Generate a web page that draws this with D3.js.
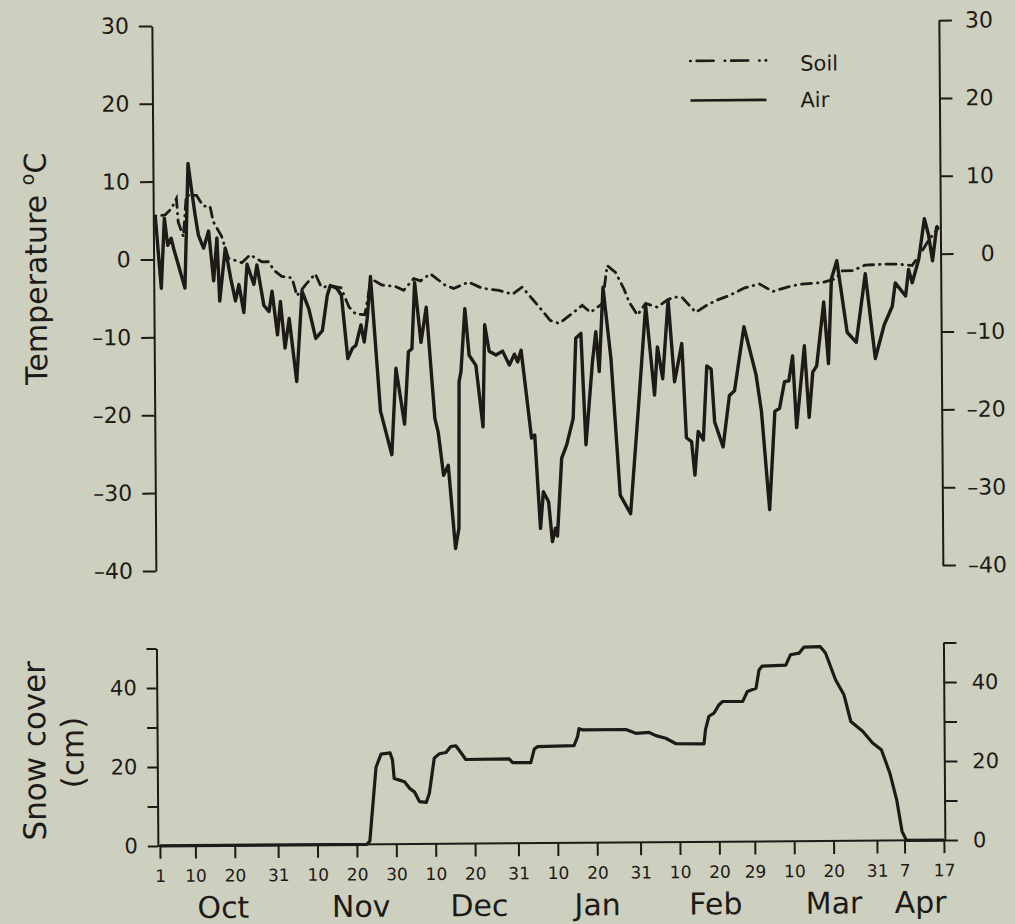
<!DOCTYPE html>
<html>
<head>
<meta charset="utf-8">
<script src="https://cdn.jsdelivr.net/npm/d3@7"></script>
<style>
  body { margin: 0; background: #cdd0be; }
  text { fill: #1e1a18; }
</style>
</head>
<body>
<svg id="chart" width="1015" height="924"></svg>
<script>
// daily values, as [days since 1 Oct, value]
const airTemp = [[0,5.5],[1.4,-3.7],[2.3,5.3],[3.1,1.8],[4,2.7],[4.6,1.4],[7.4,-3.7],[8.4,12.3],[9.2,9.1],[10.1,5.7],[10.9,3.1],[12.2,1.4],[13.5,3.6],[14.7,-2.8],[15.6,2.7],[16.2,-5.4],[17.7,1.4],[19,-2.4],[20.2,-5.4],[21.1,-3.3],[22.3,-6.9],[23.2,-0.7],[24.9,-3.3],[25.7,-0.8],[27.4,-6],[28.7,-6.8],[29.5,-4.2],[30.8,-9.8],[31.6,-5.5],[32.7,-11.5],[33.8,-7.7],[35.6,-15.8],[37.1,-4.2],[38.8,-6.5],[40.5,-10.3],[42.2,-9.3],[43.5,-4.8],[44.3,-3.5],[46,-3.9],[47.1,-4.8],[48.6,-12.9],[49.8,-11.6],[50.7,-11.2],[52,-8.6],[52.8,-10.8],[53.6,-7.8],[54.5,-2.4],[56.8,-19.7],[59.6,-25.3],[60.8,-14.2],[62.9,-21.4],[64,-12.1],[64.9,-11.7],[65.7,-3.2],[67.2,-10.9],[68.6,-6.4],[70.6,-20.7],[71.4,-22.4],[72.7,-28],[73.9,-26.7],[75.6,-37.4],[76.5,-34.8],[76.8,-16],[77.3,-14.7],[78.4,-6.6],[79.4,-12.6],[81.1,-13.9],[82.8,-21.8],[83.4,-8.7],[84.5,-12.1],[86.2,-12.6],[87.9,-12.1],[89.6,-13.9],[90.9,-12.5],[91.7,-13.5],[92.6,-12],[93.8,-17.4],[95.1,-23.3],[95.9,-22.9],[97.2,-34.9],[98,-30.2],[99.3,-31.5],[100.2,-36.6],[101,-34.9],[101.5,-35.9],[102.7,-25.9],[104,-24.2],[105.7,-20.8],[106.5,-10.5],[107.8,-9.9],[108.9,-24.2],[110.7,-13.5],[111.6,-9.7],[112.4,-14.8],[113.5,-4],[115.4,-13.2],[117.5,-30.7],[120.1,-33.1],[122.2,-20],[124.3,-6.4],[126.4,-17.9],[127.2,-11.7],[128.5,-15.8],[130,-5.7],[131.5,-16.2],[133.4,-11.3],[134.4,-23.4],[135.7,-23.9],[136.5,-28.2],[137.4,-22.6],[138.7,-23.7],[139.7,-14.2],[140.8,-14.6],[141.6,-21.4],[143.7,-24.6],[145.4,-18],[146.7,-17.4],[149.2,-9.2],[152.2,-15.4],[153.5,-20.1],[155.4,-32.7],[156.9,-20.1],[158.1,-19.7],[159.4,-16.3],[160.5,-16.2],[161.5,-13],[162.4,-22.2],[164.5,-11.7],[165.6,-20.9],[166.6,-15.1],[167.6,-14.3],[169.5,-6.1],[170.6,-14],[171.5,-3.1],[172.9,-0.8],[175.4,-10],[177.7,-11.3],[180.1,-2.5],[182.5,-13.4],[184.8,-9.1],[186.9,-6.7],[187.7,-3.7],[190.3,-5.4],[191.1,-2],[192,-3.7],[193.7,-0.7],[195.2,4.5],[196.2,2.5],[197.2,-0.9],[198.3,3.4],[198.7,3.6]];

const soilTemp = [[0,5.6],[2.5,5.7],[4.1,6.5],[5.4,7.8],[5.8,4.8],[7.1,2.9],[7.9,8.2],[10.5,8.2],[12.2,6.8],[13.9,6.8],[14.7,4.8],[16.8,2.9],[18.5,0.1],[21.9,-0.5],[24,0.5],[27,-0.4],[28.7,-0.4],[30,-1.5],[32,-2.3],[34.6,-2.5],[35.8,-4.8],[38,-3.4],[40.5,-2],[42,-3.7],[44.8,-3.6],[47,-3.8],[49,-6.3],[50.7,-7.2],[53,-7.3],[54.7,-2.7],[57.4,-3.5],[60.8,-3.7],[62.9,-4.2],[65.5,-2.7],[67.2,-3],[69.7,-2.1],[73.5,-3.6],[75.6,-4],[79.4,-3.2],[82.8,-4],[87.1,-4.3],[90.5,-4.8],[93,-3.9],[95.5,-5.4],[98,-6.9],[100,-8.2],[102.3,-8.6],[105.7,-7.3],[108.2,-6.3],[110.3,-7.2],[113.3,-6.1],[114.6,-1.2],[116.7,-2.1],[118.8,-4.2],[120.1,-5.9],[122.2,-7.6],[124.3,-6.1],[127.2,-6.6],[129.8,-5.7],[131.5,-5.3],[133.6,-5.4],[137,-7.3],[139.5,-6.5],[142.1,-5.8],[145.4,-5.2],[149.5,-4.2],[153.2,-3.7],[156.6,-4.7],[159.9,-4.2],[163.3,-3.8],[169.2,-3.6],[172.6,-3.1],[174.3,-2.1],[176.8,-2.1],[180.1,-1.4],[185.2,-1.3],[188.6,-1.3],[192,-1.5],[194.1,0],[196.2,1.7],[198.7,3.3]];

const snowCover = [[0,0],[52.5,0],[53.3,0.8],[55,19.5],[56.3,22.8],[58.6,23.1],[59.2,21.3],[59.6,16.6],[60.9,16.2],[62.2,15.8],[63.5,14.1],[64.7,13.2],[66,10.7],[67.7,10.5],[68.5,12.8],[69.8,21.7],[71.1,22.8],[72.8,23.1],[74,24.6],[75.3,24.8],[76.6,23],[77.8,21.3],[88.8,21.4],[89.7,20.4],[94.3,20.4],[95.2,23.8],[96,24.4],[105.3,24.6],[106.2,26.8],[106.6,28.9],[107.4,28.6],[118.5,28.6],[121,27.6],[124.4,27.8],[126.1,27],[128.6,26.3],[131.2,24.9],[138.3,24.8],[138.7,28.4],[139.6,31.8],[140.9,32.6],[142.2,34.7],[143.1,35.5],[148.2,35.5],[149.4,38],[151.6,38.8],[152.4,43.4],[153.2,44.4],[159.2,44.6],[160.4,47.2],[162.6,47.6],[163.8,49.1],[168,49.2],[169.3,47.6],[171.8,40.8],[173.9,37],[175.6,30.2],[178.6,27.7],[181.1,24.7],[183.3,23],[185.4,17.1],[187.1,10.3],[188.4,2.3],[189.5,0],[199,0]];

const tempTicks = [-40, -30, -20, -10, 0, 10, 20, 30];
const snowTicks = [0, 10, 20, 30, 40, 50];
const snowLabels = [0, 20, 40];
const dayTicks = ["1987-10-01","1987-10-10","1987-10-20","1987-10-31","1987-11-10","1987-11-20","1987-11-30",
  "1987-12-10","1987-12-20","1987-12-31","1988-01-10","1988-01-20","1988-01-31","1988-02-10","1988-02-20",
  "1988-02-29","1988-03-10","1988-03-20","1988-03-31","1988-04-07","1988-04-17"];
const months = ["Oct", "Nov", "Dec", "Jan", "Feb", "Mar", "Apr"];
const monthCentres = ["1987-10-17","1987-11-21","1987-12-21","1988-01-20","1988-02-19","1988-03-20","1988-04-11"];

const ink = "#1e1a18";
const font = "DejaVu Sans, sans-serif";
const parse = d3.utcParse("%Y-%m-%d");
const start = parse("1987-10-01");
const toDate = d => new Date(start.getTime() + d * 864e5);

const svg = d3.select("#chart");
svg.append("rect").attr("width", 1015).attr("height", 924).attr("fill", "#cdd0be");

// the printed page is a little tilted
const root = svg.append("g").attr("transform", "rotate(-0.42, 550, 450)");

const x = d3.scaleUtc().domain([start, parse("1988-04-17")]).range([157, 941]);
const yT = d3.scaleLinear().domain([-40, 30]).range([568, 23]);
const yS = d3.scaleLinear().domain([0, 50]).range([843, 645.5]);

function styleAxis(g, size) {
  g.attr("font-family", font).attr("font-size", size);
  g.selectAll("path, line").attr("stroke", ink).attr("stroke-width", 2);
  g.selectAll("text").attr("fill", ink);
}
const minus = d => d < 0 ? "\u2013" + Math.abs(d) : String(d);

// temperature panel axes
root.append("g")
    .attr("transform", "translate(155,0)")
    .call(d3.axisLeft(yT).tickValues(tempTicks).tickSize(13).tickSizeOuter(0).tickPadding(10).tickFormat(minus))
    .call(g => styleAxis(g, 22));

root.append("g")
    .attr("transform", "translate(942,0)")
    .call(d3.axisRight(yT).tickValues(tempTicks).tickSize(13).tickSizeOuter(0).tickFormat(minus))
    .call(g => styleAxis(g, 22))
    .call(g => g.selectAll(".tick text")
        .attr("text-anchor", d => d < 0 ? "start" : "end")
        .attr("x", d => d < 0 ? 25 : 54));

// snow panel axes
const snowFmt = d => snowLabels.includes(d) ? d : "";
root.append("g")
    .attr("transform", "translate(155,0)")
    .call(d3.axisLeft(yS).tickValues(snowTicks).tickSize(10).tickSizeOuter(0).tickPadding(10).tickFormat(snowFmt))
    .call(g => styleAxis(g, 21));

root.append("g")
    .attr("transform", "translate(942,0)")
    .call(d3.axisRight(yS).tickValues(snowTicks).tickSize(13).tickSizeOuter(0).tickPadding(15).tickFormat(snowFmt))
    .call(g => styleAxis(g, 21));

root.append("g")
    .attr("transform", "translate(0,843)")
    .call(d3.axisBottom(x).tickValues(dayTicks.map(parse)).tickSize(13).tickSizeOuter(0).tickPadding(11)
        .tickFormat(d => d.getUTCDate()))
    .call(g => styleAxis(g, 17))
    .call(g => g.select(".domain").attr("d", "M155,0H942"));

root.append("g")
  .selectAll("text")
  .data(months)
  .join("text")
    .attr("x", (d, i) => x(parse(monthCentres[i])))
    .attr("y", 915.5)
    .attr("text-anchor", "middle")
    .attr("font-family", font)
    .attr("font-size", 30)
    .text(d => d);

// lines
const tLine = d3.line().x(d => x(toDate(d[0]))).y(d => yT(d[1]));
const sLine = d3.line().x(d => x(toDate(d[0]))).y(d => yS(d[1]));

root.append("path")
    .datum(soilTemp)
    .attr("d", tLine)
    .attr("fill", "none")
    .attr("stroke", ink)
    .attr("stroke-width", 2.8)
    .attr("stroke-linecap", "round")
    .attr("stroke-dasharray", "0.5,6,10,6");

root.append("path")
    .datum(airTemp)
    .attr("d", tLine)
    .attr("fill", "none")
    .attr("stroke", ink)
    .attr("stroke-width", 3.4)
    .attr("stroke-linejoin", "round");

root.append("path")
    .datum(snowCover)
    .attr("d", sLine)
    .attr("fill", "none")
    .attr("stroke", ink)
    .attr("stroke-width", 3.2)
    .attr("stroke-linejoin", "round");

// legend
const legend = root.append("g").attr("font-family", font).attr("font-size", 21);
legend.append("line").attr("x1", 693).attr("x2", 769).attr("y1", 62).attr("y2", 62)
    .attr("stroke", ink).attr("stroke-width", 2.6).attr("stroke-linecap", "round")
    .attr("stroke-dasharray", "0.5,6,17,11");
legend.append("text").attr("x", 803).attr("y", 72.5).text("Soil");
legend.append("line").attr("x1", 693).attr("x2", 769).attr("y1", 101.5).attr("y2", 101.5)
    .attr("stroke", ink).attr("stroke-width", 2.6);
legend.append("text").attr("x", 803).attr("y", 109).text("Air");

// axis titles
const tTitle = root.append("text")
    .attr("transform", "translate(37,265) rotate(-90)")
    .attr("text-anchor", "middle")
    .attr("dy", "0.36em")
    .attr("font-family", font)
    .attr("font-size", 30);
tTitle.append("tspan").text("Temperature ");
tTitle.append("tspan").attr("font-size", 19).attr("dy", -12).text("o");
tTitle.append("tspan").attr("dy", 12).text("C");

root.append("text")
    .attr("transform", "translate(32,747) rotate(-90)")
    .attr("text-anchor", "middle")
    .attr("dy", "0.36em")
    .attr("font-family", font)
    .attr("font-size", 31)
    .text("Snow cover");

root.append("text")
    .attr("transform", "translate(70,749) rotate(-90)")
    .attr("text-anchor", "middle")
    .attr("dy", "0.36em")
    .attr("font-family", font)
    .attr("font-size", 31)
    .text("(cm)");
</script>
</body>
</html>
